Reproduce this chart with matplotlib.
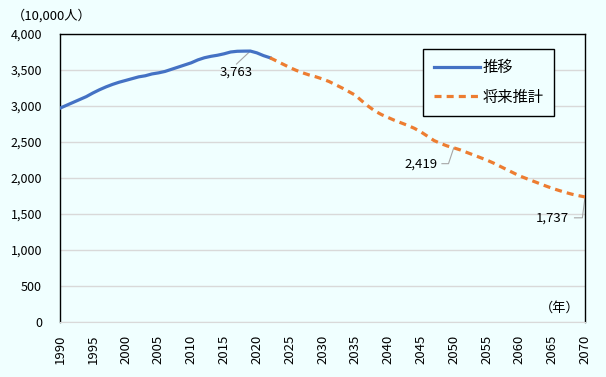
import matplotlib.pyplot as plt

plt.rcParams['font.family'] = ['Noto Sans CJK JP', 'DejaVu Sans']

# 実績（1990-2022年）
hist_years = list(range(1990, 2023))
hist_vals = [2970, 3010, 3050, 3090, 3130, 3180, 3225, 3265, 3300, 3330,
             3355, 3380, 3405, 3420, 3445, 3460, 3480, 3510, 3540, 3570,
             3600, 3640, 3670, 3690, 3705, 3725, 3750, 3760, 3762, 3763,
             3738, 3700, 3670]

# 将来推計（2022-2070年）
proj_years = list(range(2022, 2071))
proj_vals = [3670, 3625, 3580, 3535, 3495, 3460, 3430, 3405, 3375, 3340,
             3295, 3250, 3200, 3150, 3070, 2995, 2930, 2880, 2840, 2800,
             2765, 2730, 2690, 2640, 2580, 2520, 2480, 2445, 2419, 2390,
             2355, 2320, 2285, 2250, 2210, 2165, 2120, 2075, 2030, 1995,
             1960, 1925, 1890, 1857, 1828, 1800, 1775, 1755, 1737]

bg = '#F0FFFF'
fig = plt.figure(figsize=(6.06, 3.77), dpi=100, facecolor=bg)
ax = fig.add_axes([60 / 606, 55 / 377, 525 / 606, 288 / 377], facecolor=bg)

ax.plot(hist_years, hist_vals, color='#4472C4', lw=2.3, label='推移', zorder=3)
ax.plot(proj_years, proj_vals, color='#ED7D31', lw=2.3, ls=(0, (2.2, 1.6)),
        label='将来推計', zorder=3)

ax.set_xlim(1990, 2070)
ax.set_ylim(0, 4000)
ax.set_xticks(range(1990, 2071, 5))
ax.set_yticks(range(0, 4001, 500))
ax.set_yticklabels([f'{v:,}' for v in range(0, 4001, 500)])
ax.tick_params(axis='x', rotation=90, length=0, pad=9, labelsize=9.5)
ax.tick_params(axis='y', length=0, pad=13, labelsize=9)
ax.grid(axis='y', color='#D9D9D9', lw=1)
ax.set_axisbelow(True)
for s in ['left', 'top', 'right']:
    ax.spines[s].set_color('black')
    ax.spines[s].set_linewidth(1)
ax.spines['bottom'].set_color('#D9D9D9')

# データラベル
peak_i = hist_vals.index(max(hist_vals))
ax.plot([hist_years[peak_i], hist_years[peak_i] - 2.1],
        [hist_vals[peak_i], hist_vals[peak_i] - 180], color='#A6A6A6', lw=0.8)
ax.text(hist_years[peak_i] - 2.1, hist_vals[peak_i] - 200, f'{hist_vals[peak_i]:,}',
        ha='center', va='top', fontsize=9.5)

i50 = proj_years.index(2050)
ax.plot([2050, 2049.2, 2048.2], [proj_vals[i50], proj_vals[i50] - 220, proj_vals[i50] - 220],
        color='#A6A6A6', lw=0.8)
ax.text(2047.6, proj_vals[i50] - 220, f'{proj_vals[i50]:,}', ha='right', va='center', fontsize=9.5)

ax.plot([2070, 2069.6, 2068.4], [proj_vals[-1], proj_vals[-1] - 290, proj_vals[-1] - 290],
        color='#A6A6A6', lw=0.8)
ax.text(2067.6, proj_vals[-1] - 290, f'{proj_vals[-1]:,}', ha='right', va='center', fontsize=9.5)

ax.text(-48 / 525, 1.04, '（10,000人）', transform=ax.transAxes, ha='left', va='bottom',
        fontsize=9.5)
ax.text(0.99, 0.025, '（年）', transform=ax.transAxes, ha='right', va='bottom', fontsize=9.5)

leg = ax.legend(loc='upper right', bbox_to_anchor=(502 / 525, 1 - 7 / 288), fontsize=11,
                frameon=True, fancybox=False, edgecolor='black', facecolor=bg,
                framealpha=1, handlelength=3, borderpad=0.7, labelspacing=0.8,
                handletextpad=0.2)
leg.get_frame().set_linewidth(1)

fig.savefig('out.png', dpi=100, facecolor=bg)
